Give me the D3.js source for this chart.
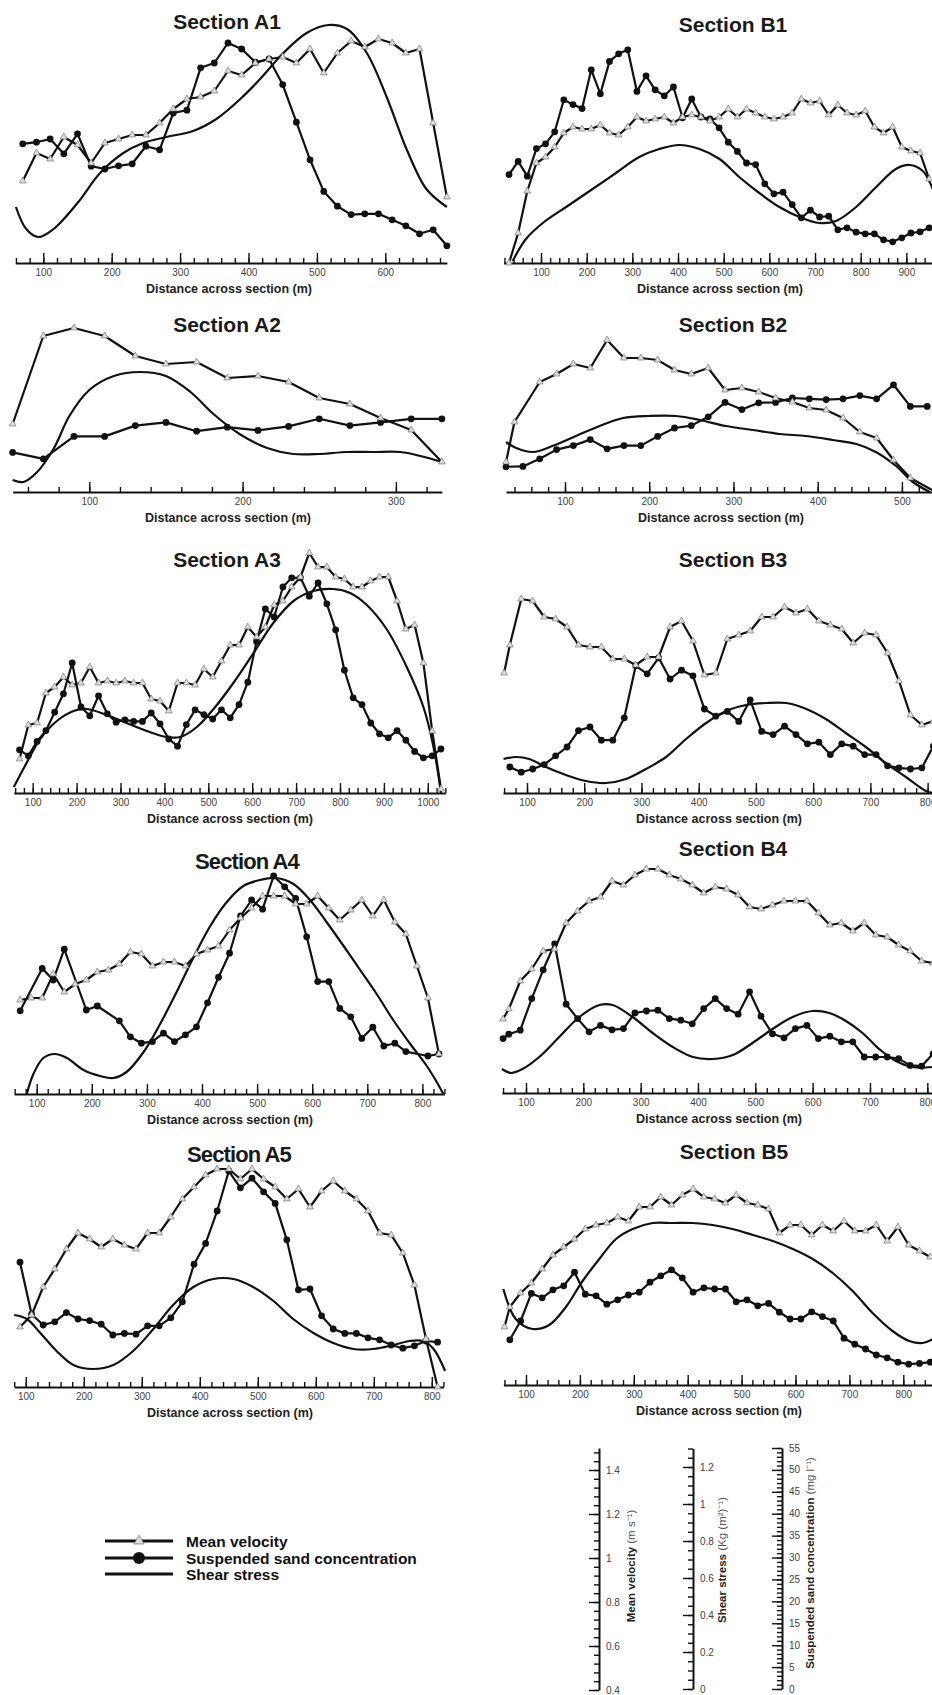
<!DOCTYPE html>
<html lang="en">
<head>
<meta charset="utf-8">
<title>Sections A1-B5</title>
<script src="https://cdn.jsdelivr.net/npm/d3@7"></script>
<style>
  body { margin: 0; background: #fff; }
  svg { display: block; background: #fff; }
  .domain { stroke: #111; stroke-width: 2; }
  .tick line { stroke: #111; stroke-width: 1.4; }
</style>
</head>
<body>
<div id="chart"></div>
<script>
  ////////////////////////////////////////////////// DATA
  // stations (m), mean velocity (m/s), suspended sand (mg/l), shear stress curve (x in m, Kg/m2)

  // Section A1
  var xA1 = [70,90,110,130,150,170,190,210,230,250,270,290,310,330,350,370,390,410,430,450,470,490,510,530,550,570,590,610,630,650,670,690];
  var velA1 = [0.81,0.95,0.92,1.03,0.99,0.90,1.00,1.02,1.04,1.04,1.10,1.17,1.22,1.23,1.26,1.36,1.34,1.40,1.42,1.43,1.40,1.47,1.35,1.45,1.51,1.48,1.52,1.50,1.45,1.47,1.10,0.73];
  var sscA1 = [29.8,30.2,31.0,27.3,32.3,24.2,23.5,24.3,24.8,29.2,28.3,37.5,38.2,48.8,50.0,55.0,53.5,50.2,51.0,44.6,35.2,25.8,17.9,14.2,12.1,12.3,12.3,10.8,9.3,7.3,8.3,4.3];
  var tauXA1 = [60,75,93,115,150,183,217,246,280,319,353,388,417,451,485,517,544,573,602,631,660,690];
  var tauA1 = [0.28,0.17,0.13,0.17,0.30,0.45,0.55,0.60,0.63,0.66,0.72,0.82,0.92,1.05,1.15,1.19,1.17,1.05,0.83,0.57,0.37,0.28];

  // Section B1
  var xB1 = [30,50,70,90,110,130,150,170,190,210,230,250,270,290,310,330,350,370,390,410,430,450,470,490,510,530,550,570,590,610,630,650,670,690,710,730,750,770,790,810,830,850,870,890,910,930,950];
  var velB1 = [0.40,0.55,0.76,0.90,0.93,0.98,1.05,1.08,1.07,1.07,1.09,1.05,1.04,1.08,1.13,1.11,1.12,1.13,1.10,1.13,1.14,1.13,1.11,1.13,1.17,1.13,1.17,1.15,1.13,1.12,1.13,1.15,1.22,1.20,1.21,1.14,1.19,1.15,1.14,1.16,1.08,1.05,1.08,0.98,0.96,0.95,0.82];
  var sscB1 = [22.1,25.4,21.7,28.6,29.8,32.8,40.8,39.6,38.6,48.3,42.3,50.4,52.3,53.3,42.9,46.8,43.3,41.8,44.0,36.3,41.0,36.5,36.0,33.8,30.2,27.9,25.0,24.6,19.8,17.3,17.7,14.6,11.3,13.2,11.5,11.7,8.3,8.8,7.7,7.3,7.3,5.8,5.3,6.3,7.5,7.8,8.8];
  var tauXB1 = [38,67,104,155,213,264,315,359,403,447,491,534,578,622,666,709,746,790,834,877,907,936,956,972];
  var tauB1 = [0.01,0.12,0.20,0.28,0.37,0.45,0.53,0.57,0.59,0.57,0.52,0.43,0.35,0.28,0.23,0.20,0.21,0.28,0.38,0.47,0.49,0.46,0.38,0.28];

  // Section A2
  var xA2 = [50,70,90,110,130,150,170,190,210,230,250,270,290,310,330];
  var velA2 = [0.74,1.18,1.22,1.18,1.08,1.04,1.05,0.97,0.98,0.95,0.87,0.84,0.77,0.71,0.55];
  var sscA2 = [9.9,8.3,13.9,13.9,16.6,17.4,15.2,16.2,15.4,16.4,18.3,16.6,17.4,18.3,18.3];
  var tauXA2 = [50,57,66,77,87,100,116,133,150,166,181,198,216,233,250,268,285,303,316,330];
  var tauA2 = [0.06,0.05,0.10,0.22,0.38,0.51,0.58,0.60,0.58,0.50,0.39,0.29,0.22,0.19,0.19,0.20,0.20,0.20,0.18,0.15];

  // Section B2
  var xB2 = [30,40,50,70,90,110,130,150,170,190,210,230,250,270,290,310,330,350,370,390,410,430,450,470,490,510,530,540];
  var velB2 = [0.55,0.75,null,0.95,0.99,1.04,1.02,1.16,1.07,1.07,1.06,1.01,0.99,1.02,0.91,0.92,0.90,0.87,0.85,0.82,0.81,0.77,0.70,0.67,0.56,0.47,null,0.40];
  var sscB2 = [6.3,null,6.4,8.3,10.6,11.6,13.1,10.8,11.6,11.6,13.9,16.0,16.6,18.8,22.4,20.6,22.3,22.4,23.5,23.3,23.1,23.3,24.1,23.3,26.8,21.4,21.4,null];
  var tauXB2 = [30,42,62,85,113,141,169,200,232,260,291,323,355,386,418,446,469,493,513,533];
  var tauB2 = [0.25,0.22,0.20,0.23,0.28,0.33,0.37,0.38,0.38,0.36,0.33,0.31,0.29,0.28,0.26,0.24,0.20,0.13,0.05,0.00];

  // Section A3
  var xA3 = [70,90,110,130,150,170,190,210,230,250,270,290,310,330,350,370,390,410,430,450,470,490,510,530,550,570,590,610,630,650,670,690,710,730,750,770,790,810,830,850,870,890,910,930,950,970,990,1010,1030];
  var velA3 = [0.57,0.74,0.75,0.90,0.93,0.98,0.94,0.95,1.03,0.95,0.96,0.95,0.96,0.95,0.95,0.87,0.86,0.81,0.95,0.95,0.94,1.02,0.98,1.06,1.14,1.14,1.23,1.18,1.23,1.34,1.36,1.43,1.48,1.60,1.53,1.53,1.48,1.47,1.43,1.43,1.46,1.48,1.48,1.36,1.22,1.24,1.05,0.71,0.42];
  var sscA3 = [10.8,9.3,12.9,15.6,20.2,24.8,32.5,21.5,19.3,24.3,19.8,17.7,18.3,17.9,17.9,20.0,17.3,13.5,11.7,17.1,20.8,19.6,18.5,20.8,18.8,22.1,27.7,37.9,46.0,44.0,51.5,53.8,53.8,49.2,52.5,47.3,40.8,30.7,23.8,22.1,17.5,14.8,13.8,15.6,13.2,10.4,8.8,9.3,11.0];
  var tauXA3 = [57,86,117,155,193,223,269,314,360,405,436,474,512,557,603,648,694,739,785,823,861,906,952,990,1013,1030];
  var tauA3 = [0.03,0.15,0.27,0.36,0.41,0.42,0.39,0.35,0.31,0.28,0.28,0.33,0.42,0.55,0.70,0.85,0.96,1.01,1.02,1.00,0.94,0.82,0.63,0.43,0.23,0.00];

  // Section B3
  var xB3 = [60,70,90,110,130,150,170,190,210,230,250,270,290,310,330,350,370,390,410,430,450,470,490,510,530,550,570,590,610,630,650,670,690,710,730,750,770,790,810];
  var velB3 = [1.00,1.14,1.37,1.36,1.28,1.27,1.23,1.14,1.13,1.13,1.07,1.07,1.04,1.08,1.08,1.23,1.26,1.16,0.99,1.00,1.17,1.19,1.21,1.28,1.28,1.33,1.30,1.32,1.26,1.24,1.22,1.15,1.20,1.19,1.10,0.96,0.79,0.74,0.76];
  var sscB3 = [null,6.5,5.2,6.0,7.1,9.3,11.5,15.6,16.5,13.2,13.2,18.8,31.8,29.8,33.8,28.5,30.7,29.3,21.0,19.2,20.4,17.9,23.3,15.4,14.6,16.7,14.6,12.3,12.7,9.6,12.3,11.7,9.6,9.6,6.8,6.3,6.0,6.3,11.7];
  var tauXB3 = [59,81,104,133,168,203,238,273,308,343,378,413,448,483,518,553,588,622,657,692,727,762,797,809];
  var tauB3 = [0.17,0.18,0.17,0.13,0.09,0.06,0.05,0.07,0.12,0.18,0.27,0.35,0.41,0.44,0.45,0.45,0.42,0.37,0.30,0.23,0.15,0.08,0.01,0.00];

  // Section A4
  var xA4 = [70,90,110,130,150,170,190,210,230,250,270,290,310,330,350,370,390,410,430,450,470,490,510,530,550,570,590,610,630,650,670,690,710,730,750,770,790,810,830];
  var velA4 = [0.87,0.88,0.88,1.00,0.91,0.95,0.97,1.01,1.02,1.05,1.11,1.10,1.04,1.06,1.06,1.04,1.10,1.12,1.14,1.22,1.28,1.33,1.39,1.39,1.39,1.35,1.35,1.39,1.33,1.27,1.32,1.37,1.29,1.37,1.26,1.20,1.04,0.88,0.60];
  var sscA4 = [20.8,null,31.4,28.5,36.2,null,21.0,22.0,null,18.3,14.3,12.7,13.1,15.2,13.1,14.8,16.8,22.8,29.2,35.2,44.5,48.5,46.2,54.5,51.8,48.9,39.3,28.1,28.1,21.4,19.3,13.9,16.7,12.0,12.7,10.6,null,9.5,10.0];
  var tauXA4 = [82,94,112,133,155,185,215,239,263,294,324,354,384,415,445,475,505,535,566,596,626,657,687,717,747,778,808,826,838];
  var tauA4 = [0.00,0.10,0.18,0.20,0.18,0.12,0.09,0.08,0.11,0.21,0.35,0.51,0.68,0.84,0.96,1.04,1.07,1.08,1.05,0.97,0.86,0.74,0.62,0.50,0.37,0.25,0.14,0.06,0.00];

  // Section B4
  var xB4 = [60,70,90,110,130,150,170,190,210,230,250,270,290,310,330,350,370,390,410,430,450,470,490,510,530,550,570,590,610,630,650,670,690,710,730,750,770,790,810];
  var velB4 = [0.77,0.82,0.96,1.02,1.11,1.12,1.25,1.31,1.36,1.38,1.46,1.44,1.49,1.52,1.52,1.49,1.47,1.44,1.40,1.43,1.42,1.39,1.33,1.32,1.34,1.36,1.36,1.36,1.30,1.24,1.25,1.21,1.25,1.19,1.18,1.14,1.11,1.06,1.05];
  var sscB4 = [13.6,14.7,15.7,23.6,30.8,37.3,22.2,18.6,15.3,16.9,15.8,16.1,20.0,20.5,20.7,18.6,18.2,17.3,21.1,23.6,21.1,19.7,25.3,19.2,14.8,13.8,16.1,16.9,13.6,14.2,12.8,12.8,9.0,9.0,9.0,8.6,6.9,6.7,9.8];
  var tauXB4 = [58,74,94,123,158,193,228,251,286,321,356,391,426,461,495,530,565,600,629,658,687,716,745,774,808];
  var tauB4 = [0.12,0.10,0.12,0.18,0.28,0.38,0.44,0.44,0.38,0.30,0.23,0.18,0.17,0.19,0.25,0.32,0.38,0.41,0.40,0.36,0.30,0.22,0.16,0.13,0.13];

  // Section A5
  var xA5 = [90,110,130,150,170,190,210,230,250,270,290,310,330,350,370,390,410,430,450,470,490,510,530,550,570,590,610,630,650,670,690,710,730,750,770,790,810];
  var velA5 = [0.70,0.76,0.90,0.99,1.09,1.17,1.14,1.10,1.14,1.11,1.09,1.17,1.17,1.25,1.34,1.40,1.46,1.49,1.49,1.44,1.49,1.44,1.40,1.34,1.39,1.30,1.38,1.43,1.38,1.34,1.28,1.17,1.16,1.07,0.91,0.64,0.40];
  var sscA5 = [31.2,18.2,15.5,16.3,18.6,17.0,16.6,15.7,13.0,13.4,13.2,15.3,15.3,17.3,21.3,30.7,35.9,44.0,54.0,49.8,52.2,48.8,45.9,36.8,24.3,24.5,17.8,14.5,13.4,13.4,12.3,11.8,10.5,9.7,10.3,11.5,11.2];
  var tauXA5 = [80,102,125,153,182,216,251,285,320,354,389,423,458,492,527,561,596,630,665,699,734,762,785,803,823];
  var tauA5 = [0.36,0.34,0.27,0.18,0.11,0.09,0.11,0.18,0.29,0.41,0.50,0.54,0.54,0.50,0.43,0.34,0.27,0.22,0.19,0.19,0.21,0.23,0.23,0.19,0.08];

  // Section B5
  var xB5 = [60,70,90,110,130,150,170,190,210,230,250,270,290,310,330,350,370,390,410,430,450,470,490,510,530,550,570,590,610,630,650,670,690,710,730,750,770,790,810,830,850];
  var velB5 = [0.69,0.79,0.86,0.91,0.98,1.05,1.09,1.13,1.18,1.20,1.21,1.24,1.22,1.29,1.29,1.34,1.30,1.35,1.38,1.34,1.33,1.31,1.35,1.31,1.30,1.28,1.16,1.20,1.20,1.15,1.20,1.17,1.22,1.17,1.17,1.20,1.12,1.19,1.10,1.07,1.04];
  var sscB5 = [null,11.3,16.0,22.9,21.8,23.8,24.8,28.2,22.7,22.3,20.2,21.3,22.5,23.2,25.7,27.3,28.8,26.8,23.2,24.3,24.0,24.0,20.8,21.3,19.8,20.4,18.2,16.5,16.5,18.3,17.1,16.0,11.7,10.2,9.0,7.5,6.8,5.7,5.2,5.4,5.7];
  var tauXB5 = [58,81,112,143,174,205,236,267,298,335,372,409,446,483,521,558,595,632,669,706,743,780,811,836,855];
  var tauB5 = [0.48,0.33,0.28,0.30,0.39,0.52,0.63,0.73,0.78,0.81,0.81,0.81,0.80,0.78,0.75,0.72,0.68,0.63,0.56,0.47,0.36,0.27,0.22,0.21,0.23];

  // scale bar tick labels
  var velTicks = [0.4,0.6,0.8,1,1.2,1.4];
  var tauTicks = [0,0.2,0.4,0.6,0.8,1,1.2];
  var sscTicks = [0,5,10,15,20,25,30,35,40,45,50,55];

  var legendLabels = ["Mean velocity", "Suspended sand concentration", "Shear stress"];

  ////////////////////////////////////////////////// LAYOUT

  var W = 932, H = 1695;
  var plotH = 220;        // px of each panel's value scales
  var FONT = "'Liberation Sans', Arial, Helvetica, sans-serif";
  var LW = 2.2;           // series line width

  var panels = [
    {name:"A1", x:xA1, vel:velA1, ssc:sscA1, tx:tauXA1, tau:tauA1, x100:43.3, k:0.684,  dom:[59,690],  axisY:263,  titleX:227, titleY:21,  labX:229},
    {name:"B1", x:xB1, vel:velB1, ssc:sscB1, tx:tauXB1, tau:tauB1, x100:541,  k:0.4567, dom:[18,990],  axisY:263,  titleX:733, titleY:24,  labX:720},
    {name:"A2", x:xA2, vel:velA2, ssc:sscA2, tx:tauXA2, tau:tauA2, x100:89.3, k:1.533,  dom:[50,330],  axisY:492,  titleX:227, titleY:324, labX:228},
    {name:"B2", x:xB2, vel:velB2, ssc:sscB2, tx:tauXB2, tau:tauB2, x100:565,  k:0.8423, dom:[30,545],  axisY:492,  titleX:733, titleY:324, labX:721},
    {name:"A3", x:xA3, vel:velA3, ssc:sscA3, tx:tauXA3, tau:tauA3, x100:32.7, k:0.439,  dom:[57,1040], axisY:793,  titleX:227, titleY:559, labX:230},
    {name:"B3", x:xB3, vel:velB3, ssc:sscB3, tx:tauXB3, tau:tauB3, x100:527,  k:0.5723, dom:[58,830],  axisY:793,  titleX:733, titleY:559, labX:719},
    {name:"A4", x:xA4, vel:velA4, ssc:sscA4, tx:tauXA4, tau:tauA4, x100:36.7, k:0.551,  dom:[59,840],  axisY:1094, titleX:247, titleY:861, labX:230},
    {name:"B4", x:xB4, vel:velB4, ssc:sscB4, tx:tauXB4, tau:tauB4, x100:526,  k:0.5733, dom:[58,830],  axisY:1093, titleX:733, titleY:848, labX:719},
    {name:"A5", x:xA5, vel:velA5, ssc:sscA5, tx:tauXA5, tau:tauA5, x100:25.8, k:0.58,   dom:[80,820],  axisY:1387, titleX:239, titleY:1154, labX:230},
    {name:"B5", x:xB5, vel:velB5, ssc:sscB5, tx:tauXB5, tau:tauB5, x100:526,  k:0.539,  dom:[58,860],  axisY:1385, titleX:734, titleY:1151, labX:719}
  ];

  ////////////////////////////////////////////////// SETUP

  var svg = d3.select("#chart").append("svg")
    .attr("width", W).attr("height", H)
    .attr("font-family", FONT);

  var triangle = d3.symbol().type(d3.symbolTriangle).size(20);

  panels.forEach(drawPanel);
  drawLegend();
  drawScaleBars();

  ////////////////////////////////////////////////// FUNCTIONS

  function drawPanel(p) {
    var x = d3.scaleLinear().domain(p.dom)
      .range([p.x100 + (p.dom[0] - 100) * p.k, p.x100 + (p.dom[1] - 100) * p.k]);
    var yV = d3.scaleLinear().domain([0.4, 1.5]).range([p.axisY, p.axisY - plotH]);
    var yT = d3.scaleLinear().domain([0, 1.1]).range([p.axisY, p.axisY - plotH]);
    var yC = d3.scaleLinear().domain([0, 55]).range([p.axisY, p.axisY - plotH]);

    var g = svg.append("g").attr("class", "panel-" + p.name);

    // title
    var narrow = (p.name == "A4" || p.name == "A5");
    g.append("text")
      .attr("x", p.titleX).attr("y", p.titleY + 7.5)
      .attr("text-anchor", "middle")
      .attr("font-size", narrow ? 22 : 21).attr("font-weight", "bold")
      .attr("letter-spacing", narrow ? -0.9 : 0)
      .attr("fill", "#1a1a1a")
      .text("Section " + p.name);

    // x axis: minor ticks every 20 m, major every 100 m, ticks pointing up
    var minor = d3.range(Math.ceil(p.dom[0] / 20) * 20, p.dom[1] + 0.1, 20);
    var major = d3.range(100, p.dom[1] + 0.1, 100);

    var gMinor = g.append("g").attr("transform", "translate(0," + p.axisY + ")")
      .call(d3.axisBottom(x).tickValues(minor).tickSizeInner(-5).tickSizeOuter(0).tickFormat(""));
    gMinor.select(".domain").remove();

    var gMajor = g.append("g").attr("transform", "translate(0," + p.axisY + ")")
      .call(d3.axisBottom(x).tickValues(major).tickSizeInner(-10).tickSizeOuter(0).tickPadding(6).tickFormat(d3.format("d")));
    gMajor.selectAll(".tick line").attr("y2", -10).attr("y1", 1).attr("stroke-width", 1.8);
    gMajor.selectAll(".tick text").attr("font-family", FONT).attr("font-size", 10).attr("fill", "#444");

    g.append("text")
      .attr("x", p.labX).attr("y", p.axisY + 29.5)
      .attr("text-anchor", "middle")
      .attr("font-size", 12.5).attr("font-weight", "bold").attr("fill", "#222")
      .text("Distance across section (m)");

    // shear stress curve
    var tauPts = p.tx.map(function(d, i) { return [d, p.tau[i]]; });
    g.append("path").datum(tauPts)
      .attr("fill", "none").attr("stroke", "#111").attr("stroke-width", LW)
      .attr("d", d3.line().curve(d3.curveCatmullRom.alpha(0.5))
        .x(function(d) { return x(d[0]); }).y(function(d) { return yT(d[1]); }));

    // mean velocity
    var velPts = p.x.map(function(d, i) { return [d, p.vel[i]]; }).filter(function(d) { return d[1] != null; });
    g.append("path").datum(velPts)
      .attr("fill", "none").attr("stroke", "#111").attr("stroke-width", LW).attr("stroke-linejoin", "round")
      .attr("d", d3.line().x(function(d) { return x(d[0]); }).y(function(d) { return yV(d[1]); }));

    // suspended sand concentration
    var sscPts = p.x.map(function(d, i) { return [d, p.ssc[i]]; }).filter(function(d) { return d[1] != null; });
    g.append("path").datum(sscPts)
      .attr("fill", "none").attr("stroke", "#111").attr("stroke-width", LW).attr("stroke-linejoin", "round")
      .attr("d", d3.line().x(function(d) { return x(d[0]); }).y(function(d) { return yC(d[1]); }));

    g.selectAll("circle.ssc").data(sscPts).enter().append("circle")
      .attr("cx", function(d) { return x(d[0]); })
      .attr("cy", function(d) { return yC(d[1]); })
      .attr("r", 3.4).attr("fill", "#111");

    g.selectAll("path.vel").data(velPts).enter().append("path")
      .attr("d", triangle)
      .attr("transform", function(d) { return "translate(" + x(d[0]) + "," + yV(d[1]) + ")"; })
      .attr("fill", "#ddd").attr("stroke", "#777").attr("stroke-width", 0.7);
  }

  function drawLegend() {
    var lx0 = 105, lx1 = 173, tx = 186;
    var ys = [1541, 1558, 1574];
    var g = svg.append("g").attr("class", "legend");

    legendLabels.forEach(function(label, i) {
      g.append("line").attr("x1", lx0).attr("x2", lx1).attr("y1", ys[i]).attr("y2", ys[i])
        .attr("stroke", "#111").attr("stroke-width", 3);
      g.append("text").attr("x", tx).attr("y", ys[i] + 5.5)
        .attr("font-size", 15.5).attr("font-weight", "bold").attr("fill", "#111")
        .text(label);
    });
    g.append("path")
      .attr("d", d3.symbol().type(d3.symbolTriangle).size(45))
      .attr("transform", "translate(139," + ys[0] + ")")
      .attr("fill", "#ddd").attr("stroke", "#777").attr("stroke-width", 0.8);
    g.append("circle").attr("cx", 139).attr("cy", ys[1]).attr("r", 6).attr("fill", "#111");
  }

  function scaleBar(xPos, scale, ticks, minorStep, title, unit, titleX, titleY) {
    var g = svg.append("g").attr("transform", "translate(" + xPos + ",0)");
    var d = scale.domain();
    var minor = d3.range(d[0], d[1] + 1e-6, minorStep);

    var gm = g.append("g").call(d3.axisLeft(scale).tickValues(minor).tickSizeInner(5).tickSizeOuter(0).tickFormat(""));
    gm.select(".domain").attr("stroke-width", 2);
    gm.selectAll(".tick line").attr("stroke-width", 1);

    var gM = g.append("g").call(d3.axisLeft(scale).tickValues(ticks).tickSizeInner(10).tickSizeOuter(0).tickFormat(""));
    gM.select(".domain").remove();
    gM.selectAll(".tick line").attr("stroke-width", 1.5);

    g.selectAll("text.lbl").data(ticks).enter().append("text")
      .attr("x", 7).attr("y", function(v) { return scale(v); }).attr("dy", "0.35em")
      .attr("font-size", 10).attr("fill", "#444")
      .text(d3.format("~g"));

    var t = svg.append("text")
      .attr("transform", "translate(" + titleX + "," + titleY + ") rotate(-90)")
      .attr("text-anchor", "middle").attr("dy", "0.35em")
      .attr("font-size", 11.5).attr("fill", "#222");
    t.append("tspan").attr("font-weight", "bold").text(title);
    t.append("tspan").attr("fill", "#555").text(" " + unit);
  }

  function drawScaleBars() {
    var vScale = d3.scaleLinear().domain([0.4, 1.5]).range([1690, 1448]);
    var tScale = d3.scaleLinear().domain([0, 1.3]).range([1689, 1448.5]);
    var cScale = d3.scaleLinear().domain([0, 55]).range([1689, 1448]);

    scaleBar(599, vScale, velTicks, 0.04, "Mean velocity", "(m s\u207B\u00B9)", 631, 1566);
    scaleBar(693, tScale, tauTicks, 0.05, "Shear stress", "(Kg (m\u00B2)\u207B\u00B9)", 722, 1560);
    scaleBar(782, cScale, sscTicks, 1, "Suspended sand concentration", "(mg l\u207B\u00B9)", 810, 1563);
  }
</script>
</body>
</html>
